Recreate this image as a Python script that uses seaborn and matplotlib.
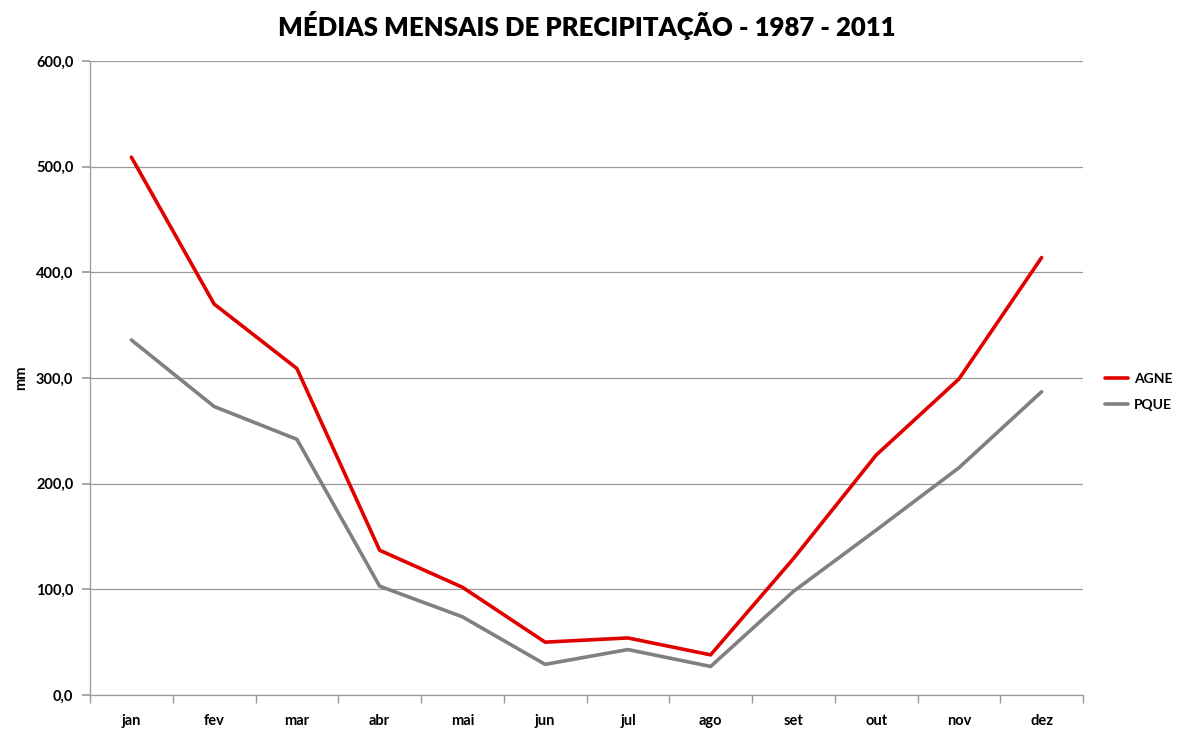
import matplotlib
matplotlib.use("Agg")
import matplotlib.pyplot as plt
from matplotlib.ticker import FuncFormatter, FixedLocator
import pandas as pd
import seaborn as sns

months = ["jan", "fev", "mar", "abr", "mai", "jun", "jul", "ago", "set", "out", "nov", "dez"]
agne = [509, 370, 309, 137, 102, 50, 54, 38, 129, 227, 299, 414]
pque = [336, 273, 242, 103, 74, 29, 43, 27, 98, 156, 215, 287]
series = ["AGNE", "PQUE"]
colors = {"AGNE": "#E00000", "PQUE": "#808080"}

df = pd.DataFrame({
    "mes": months * 2,
    "idx": list(range(len(months))) * 2,
    "mm": agne + pque,
    "serie": [series[0]] * len(months) + [series[1]] * len(months),
})

sns.set_theme(style="white")
plt.rcParams["font.family"] = ["Lato", "DejaVu Sans"]
plt.rcParams["text.color"] = "black"
plt.rcParams["xtick.color"] = "black"
plt.rcParams["ytick.color"] = "black"
plt.rcParams["axes.labelcolor"] = "black"

fig = plt.figure(figsize=(11.85, 7.3), dpi=100)
ax = fig.add_axes([90 / 1185, 1 - 695 / 730, (1083 - 90) / 1185, (695 - 61) / 730])

sns.lineplot(data=df, x="idx", y="mm", hue="serie", palette=colors, linewidth=2.6, ax=ax)

ax.set_xlim(-0.5, len(months) - 0.5)
ax.set_ylim(0, 600)
ax.set_yticks(range(0, 601, 100))
ax.yaxis.set_major_formatter(FuncFormatter(lambda v, _: f"{v:.1f}".replace(".", ",")))
ax.yaxis.grid(True, color="#9a9a9a", linewidth=0.9)
ax.set_axisbelow(True)

# month labels centred, tick marks on the category boundaries
ax.set_xticks(range(len(months)))
ax.set_xticklabels(months)
ax.xaxis.set_minor_locator(FixedLocator([i - 0.5 for i in range(len(months) + 1)]))
ax.tick_params(axis="x", which="major", length=0, pad=14, labelsize=10.5)
ax.tick_params(axis="x", which="minor", length=6, color="#9a9a9a", direction="out", bottom=True)
ax.tick_params(axis="y", length=6, color="#9a9a9a", labelcolor="black", direction="out",
               left=True, labelsize=10.5, pad=6)
for lbl in ax.get_xticklabels() + ax.get_yticklabels():
    lbl.set_fontweight("bold")

for side in ["top", "right"]:
    ax.spines[side].set_visible(False)
for side in ["left", "bottom"]:
    ax.spines[side].set_color("#9a9a9a")
    ax.spines[side].set_linewidth(0.9)

ax.set_xlabel("")
ax.set_ylabel("mm", fontweight="bold", fontsize=10.5, labelpad=6)

ax.legend(title=None, frameon=False, loc="center left", bbox_to_anchor=(1.022, 0.478),
          prop={"weight": "bold", "size": 10}, handlelength=1.7, handletextpad=0.4,
          labelspacing=1.0, borderaxespad=0, borderpad=0)

fig.suptitle("MÉDIAS MENSAIS DE PRECIPITAÇÃO - 1987 - 2011", fontsize=18.5, fontweight="heavy",
             x=(90 + 1083) / 2 / 1185, y=0.985)

fig.savefig("out.png", dpi=100)
